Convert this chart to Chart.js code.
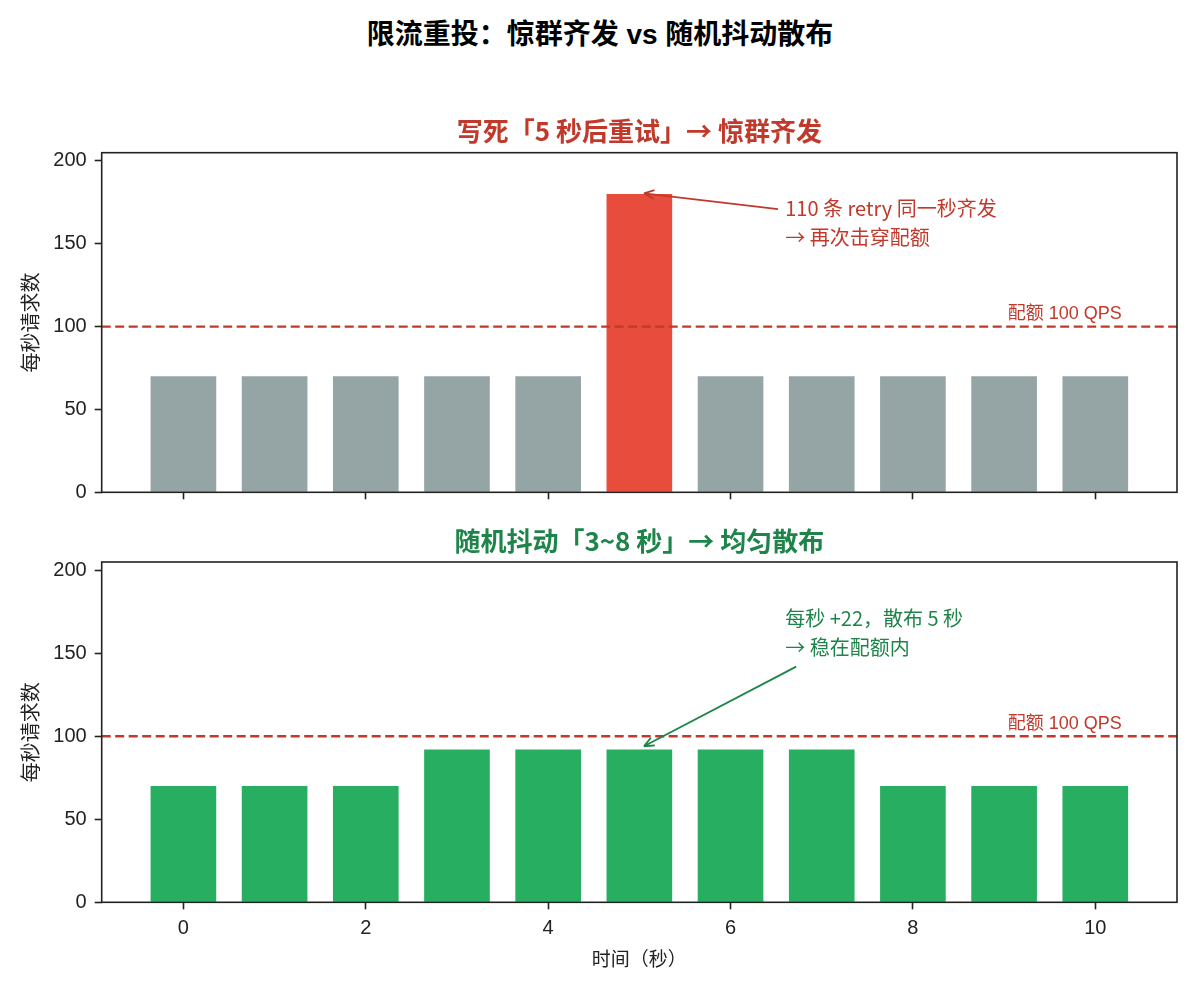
<!DOCTYPE html>
<html>
<head>
<meta charset="utf-8">
<title>限流重投：惊群齐发 vs 随机抖动散布</title>
<script src="https://cdn.jsdelivr.net/npm/chart.js@4/dist/chart.umd.min.js"></script>
<style>
  body { margin: 0; background: #fff; width: 1200px; height: 990px; position: relative; overflow: hidden; }
  #suptitle {
    position: absolute; left: 0; top: 18px; width: 1200px; text-align: center;
    font: bold 28px 'Liberation Sans', 'Noto Sans CJK SC', sans-serif; color: #000; line-height: 34px;
  }
  .panel { position: absolute; left: 0; width: 1200px; }
  #topPanel { top: 100px; height: 420px; }
  #bottomPanel { top: 509px; height: 481px; }
</style>
</head>
<body>
<div id="suptitle">限流重投：惊群齐发 vs 随机抖动散布</div>
<div class="panel" id="topPanel"><canvas id="herdChart"></canvas></div>
<div class="panel" id="bottomPanel"><canvas id="jitterChart"></canvas></div>

<script>
// data
const seconds = [0, 1, 2, 3, 4, 5, 6, 7, 8, 9, 10];
const herdValues = [70, 70, 70, 70, 70, 180, 70, 70, 70, 70, 70];
const jitterValues = [70, 70, 70, 92, 92, 92, 92, 92, 70, 70, 70];
const quota = 100;
const xTicks = [0, 2, 4, 6, 8, 10];
const yTicks = [0, 50, 100, 150, 200];

// CJK font keeps the wide arrow; latin-first stack for plain numbers
const FONT = "'Noto Sans CJK SC', sans-serif";
const LATIN = "'Liberation Sans', 'Noto Sans CJK SC', sans-serif";
const AXIS = "#222222";

// panel title, dashed quota line, frame and arrow note
const overlay = {
    id: "overlay",
    afterDatasetsDraw(chart, args, opts) {
        const { ctx, chartArea: a, scales: { x, y } } = chart;
        ctx.save();

        // panel title, centred over the axes like matplotlib
        ctx.fillStyle = opts.titleColor;
        ctx.font = "bold 26px " + FONT;
        ctx.textAlign = "center";
        ctx.textBaseline = "middle";
        ctx.fillText(opts.title, (a.left + a.right) / 2, a.top - 21.2);

        // quota line
        const qy = y.getPixelForValue(quota);
        ctx.strokeStyle = "#c0392b";
        ctx.lineWidth = 2.4;
        ctx.setLineDash([9, 4.5]);
        ctx.beginPath();
        ctx.moveTo(a.left, qy);
        ctx.lineTo(a.right, qy);
        ctx.stroke();
        ctx.setLineDash([]);

        ctx.fillStyle = "#c0392b";
        ctx.font = "18px " + LATIN;
        ctx.textAlign = "right";
        ctx.textBaseline = "middle";
        ctx.fillText("配额 100 QPS", x.getPixelForValue(10.29), qy - 12.5);

        // arrow
        const n = opts.note;
        const x0 = x.getPixelForValue(n.from[0]), y0 = y.getPixelForValue(n.from[1]);
        const x1 = x.getPixelForValue(n.to[0]), y1 = y.getPixelForValue(n.to[1]);
        ctx.strokeStyle = n.color;
        ctx.lineWidth = 1.8;
        ctx.beginPath();
        ctx.moveTo(x0, y0);
        ctx.lineTo(x1, y1);
        const ang = Math.atan2(y1 - y0, x1 - x0);
        const head = 11;
        for (const d of [0.4, -0.4]) {
            ctx.moveTo(x1, y1);
            ctx.lineTo(x1 - head * Math.cos(ang + d), y1 - head * Math.sin(ang + d));
        }
        ctx.stroke();

        // note text
        ctx.fillStyle = n.color;
        ctx.font = "20px " + FONT;
        ctx.textAlign = "left";
        ctx.textBaseline = "middle";
        const tx = x.getPixelForValue(n.text[0]);
        const ty = y.getPixelForValue(n.text[1]);
        n.lines.forEach((line, i) => ctx.fillText(line, tx, ty + i * 29));

        // frame
        ctx.strokeStyle = AXIS;
        ctx.lineWidth = 1.6;
        ctx.strokeRect(a.left, a.top, a.right - a.left, a.bottom - a.top);
        ctx.restore();
    }
};

function makeChart(canvasId, values, colors, title, titleColor, note, bottom) {
    return new Chart(document.getElementById(canvasId), {
        type: "bar",
        data: {
            datasets: [{
                data: seconds.map((s, i) => ({ x: s, y: values[i] })),
                backgroundColor: colors,
                borderWidth: 0,
                categoryPercentage: 1,
                barPercentage: 0.72
            }]
        },
        options: {
            responsive: true,
            maintainAspectRatio: false,
            animation: false,
            layout: { padding: { left: 0, right: 23, top: bottom ? 53 : 52.7, bottom: 0 } },
            plugins: {
                legend: { display: false },
                tooltip: { enabled: false },
                title: { display: false },
                overlay: { note: note, title: title, titleColor: titleColor }
            },
            scales: {
                x: {
                    type: "linear",
                    offset: false,
                    min: -0.896,
                    max: 10.896,
                    afterBuildTicks: s => { s.ticks = xTicks.map(v => ({ value: v })); },
                    afterFit: s => { s.height = bottom ? 87.7 : 27.7; },
                    border: { display: false },
                    grid: { offset: false, drawOnChartArea: false, drawTicks: true, tickLength: 7, tickWidth: 1.6, tickColor: AXIS },
                    ticks: {
                        display: bottom,
                        color: AXIS,
                        padding: 6.7,
                        font: { family: LATIN, size: 20, lineHeight: 1.2 }
                    },
                    title: {
                        display: bottom,
                        text: "时间（秒）",
                        color: AXIS,
                        font: { family: FONT, size: 19, lineHeight: 1.2 },
                        padding: { top: 0, bottom: 19.6 }
                    }
                },
                y: {
                    min: 0,
                    max: 205,
                    afterBuildTicks: s => { s.ticks = yTicks.map(v => ({ value: v })); },
                    afterFit: s => { s.width = 101.7; },
                    border: { display: false },
                    grid: { drawOnChartArea: false, drawTicks: true, tickLength: 7, tickWidth: 1.6, tickColor: AXIS },
                    ticks: {
                        color: AXIS,
                        padding: 8,
                        font: { family: LATIN, size: 20, lineHeight: 1.2 }
                    },
                    title: {
                        display: true,
                        text: "每秒请求数",
                        color: AXIS,
                        font: { family: FONT, size: 20, lineHeight: 1.2 },
                        padding: { top: 18, bottom: 0 }
                    }
                }
            }
        },
        plugins: [overlay]
    });
}

const herdColors = herdValues.map(v => v > quota ? "#e74c3c" : "#95a5a6");

makeChart("herdChart", herdValues, herdColors,
    "写死「5 秒后重试」→ 惊群齐发", "#c0392b",
    { from: [6.52, 171], to: [5.05, 180.5], text: [6.6, 171.4], color: "#c0392b",
      lines: ["110 条 retry 同一秒齐发", "→ 再次击穿配额"] },
    false);

makeChart("jitterChart", jitterValues, "#27ae60",
    "随机抖动「3~8 秒」→ 均匀散布", "#1e8449",
    { from: [6.72, 142], to: [5.05, 94], text: [6.6, 170.9], color: "#1e8449",
      lines: ["每秒 +22，散布 5 秒", "→ 稳在配额内"] },
    true);
</script>
</body>
</html>
